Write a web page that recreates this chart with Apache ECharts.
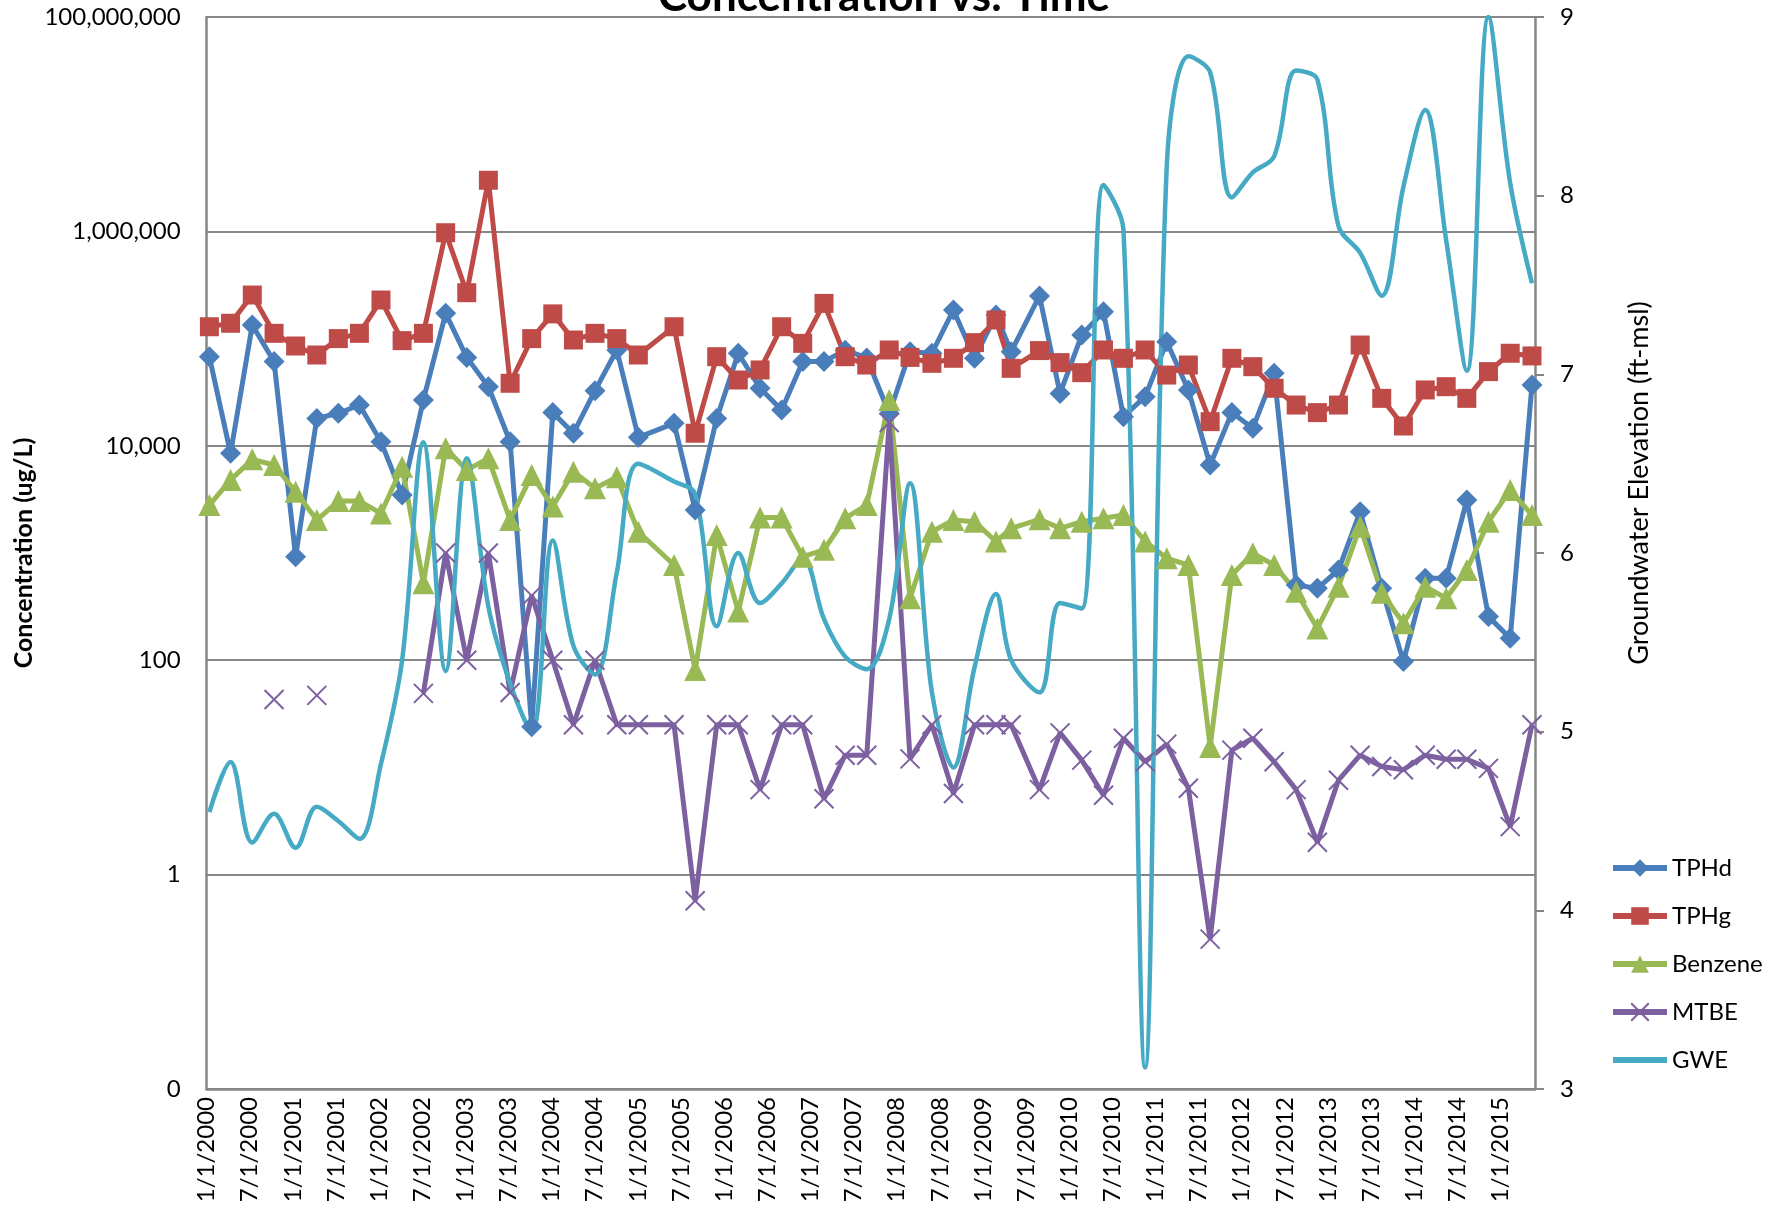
<!DOCTYPE html>
<html>
<head>
<meta charset="utf-8">
<title>Concentration vs. Time</title>
<script src="https://cdn.jsdelivr.net/npm/echarts@6/dist/echarts.min.js"></script>
<style>
  html, body { margin: 0; padding: 0; background: #fff; }
  #chart { width: 1782px; height: 1214px; }
</style>
</head>
<body>
<div id="chart"></div>
<script>
// sampling events
const sampleDates = [
  '2000-01-13', '2000-04-11', '2000-07-12', '2000-10-13', '2001-01-13', '2001-04-11', '2001-07-11', '2001-10-09',
  '2002-01-09', '2002-04-07', '2002-07-06', '2002-10-09', '2003-01-07', '2003-04-07', '2003-07-08', '2003-10-08',
  '2004-01-06', '2004-04-02', '2004-07-02', '2004-10-03', '2005-01-03', '2005-06-02', '2005-08-31', '2005-11-30',
  '2006-02-28', '2006-06-01', '2006-09-01', '2006-11-29', '2007-02-26', '2007-05-27', '2007-08-27', '2007-11-30',
  '2008-02-26', '2008-05-29', '2008-08-29', '2008-11-26', '2009-02-24', '2009-04-29', '2009-08-28', '2009-11-23',
  '2010-02-22', '2010-05-25', '2010-08-18', '2010-11-18', '2011-02-17', '2011-05-19', '2011-08-20', '2011-11-20',
  '2012-02-17', '2012-05-17', '2012-08-19', '2012-11-17', '2013-02-14', '2013-05-16', '2013-08-16', '2013-11-16',
  '2014-02-16', '2014-05-15', '2014-08-11', '2014-11-11', '2015-02-11', '2015-05-13'
];

// concentrations, ug/L
const tphd = [
  67800, 8500, 134000, 61000, 925, 18000, 20100, 24000,
  10900, 3480, 26800, 172000, 66800, 35600, 10900, 24,
  20400, 13100, 32700, 78300, 12000, 16200, 2520, 18000,
  73000, 34400, 21600, 61000, 61000, 78000, 66000, 20000,
  75500, 73000, 185000, 65500, 166000, 75500, 250000, 30800,
  108000, 178000, 18700, 28700, 93500, 33100, 6620, 20400,
  14600, 47400, 502, 468, 694, 2430, 468, 97,
  580, 580, 3120, 255, 160, 36900
];
const tphg = [
  129000, 139000, 255000, 112000, 85300, 70300, 100000, 112000,
  229000, 95700, 112000, 972000, 268000, 3000000, 38300, 100000,
  170000, 97000, 112000, 100000, 70300, 129000, 13100, 67800,
  41100, 51000, 129000, 90300, 213000, 67800, 56700, 78300,
  66800, 58800, 65500, 91700, 149000, 52800, 77300, 59700,
  48100, 78300, 65500, 78300, 45700, 56700, 16800, 65500,
  54700, 34400, 24000, 20400, 24000, 87100, 27700, 15300,
  33200, 35600, 27700, 49200, 73000, 68900
];
const benzene = [
  2800, 4800, 7480, 6620, 3730, 2030, 3050, 3050,
  2340, 6380, 521, 9470, 5940, 7640, 2030, 5350,
  2710, 5740, 4010, 5080, 1580, 773, 81, 1470,
  284, 2140, 2140, 925, 1070, 2110, 2800, 26700,
  378, 1580, 2030, 1960, 1280, 1700, 2060, 1700,
  1960, 2110, 2260, 1280, 892, 773, 15.5, 624,
  993, 773, 436, 198, 485, 1760, 426, 221,
  485, 378, 694, 1960, 3870, 2260
];
const mtbe = [
  null, null, null, 43, null, 47, null, null,
  null, null, 49, 1000, 100, 1000, 50, 400,
  100, 25, 100, 25, 25, 25, 0.57, 25,
  25, 6.2, 25, 25, 5.1, 13, 13, 16500,
  12, 25, 5.7, 25, 25, 25, 6.2, 21,
  11.7, 5.5, 18.7, 11.3, 16.5, 6.4, 0.25, 14.5,
  18.7, 11.3, 6.2, 2.0, 7.6, 13, 10.2, 9.5,
  13, 11.9, 11.9, 9.8, 2.8, 25
];
// groundwater elevation, ft-msl
const gwe = [
  4.55, 4.83, 4.38, 4.54, 4.35, 4.58, 4.50, 4.40,
  4.82, 5.40, 6.62, 5.34, 6.53, 5.70, 5.27, 5.00,
  6.07, 5.48, 5.32, 5.89, 6.50, 6.40, 6.33, 5.59,
  6.00, 5.72, 5.83, 5.97, 5.63, 5.42, 5.35, 5.63,
  6.39, 5.22, 4.80, 5.36, 5.77, 5.40, 5.22, 5.72,
  5.69, 8.06, 7.81, 3.12, 8.16, 8.78, 8.69, 7.99,
  8.13, 8.22, 8.70, 8.65, 7.83, 7.68, 7.44, 8.05,
  8.48, 7.75, 7.02, 9.00, 8.07, 7.51
];

const axisStart = '2000-01-01';
const axisEnd = '2015-05-26';

// months since Jan 2000, fractional
function monthIndex(s) {
  const [y, m, d] = s.split('-').map(Number);
  const dim = new Date(y, m, 0).getDate();
  return (y - 2000) * 12 + (m - 1) + (d - 1) / dim;
}
const xs = sampleDates.map(monthIndex);
const pts = vals => vals.map((v, i) => [xs[i], v == null ? '-' : v]);

const FONT = 'Lato';
const GRAY = '#868686';
const xMark = 'path://M0,0L10,10M10,0L0,10';
const legendLine = { width: 6 };

const chart = echarts.init(document.getElementById('chart'));
chart.setOption({
  animation: false,
  backgroundColor: '#fff',
  textStyle: { fontFamily: FONT, color: '#000' },
  grid: { left: 206.6, right: 247, top: 17, bottom: 125, outerBoundsMode: 'none' },
  graphic: [
    {
      type: 'text', x: 884, y: -3,
      style: { text: 'Concentration vs. Time', font: 'bold 44px Lato', fill: '#000', align: 'center', verticalAlign: 'middle' }
    },
    {
      type: 'text', x: 24, y: 553, rotation: Math.PI / 2,
      style: { text: 'Concentration (ug/L)', font: 'bold 25px Lato', fill: '#000', align: 'center', verticalAlign: 'middle' }
    },
    {
      type: 'text', x: 1639, y: 483, rotation: Math.PI / 2,
      style: { text: 'Groundwater Elevation (ft-msl)', font: '27px Lato', fill: '#000', align: 'center', verticalAlign: 'middle' }
    }
  ],
  legend: {
    orient: 'vertical',
    left: 1605, top: 851,
    itemWidth: 54, itemHeight: 22, itemGap: 24,
    lineStyle: legendLine,
    textStyle: { fontSize: 24, lineHeight: 24, color: '#000', fontFamily: FONT },
    data: [
      { name: 'TPHd', lineStyle: legendLine },
      { name: 'TPHg', lineStyle: legendLine },
      { name: 'Benzene', lineStyle: legendLine },
      { name: 'MTBE', lineStyle: legendLine },
      { name: 'GWE', lineStyle: legendLine, itemStyle: { opacity: 0 } }
    ]
  },
  xAxis: {
    type: 'value',
    min: 0, max: monthIndex(axisEnd), interval: 6,
    axisLine: { lineStyle: { color: GRAY, width: 2.5 } },
    axisTick: { show: false },
    splitLine: { show: false },
    axisLabel: {
      rotate: 90, margin: 8, fontSize: 24, color: '#000', fontFamily: FONT,
      showMaxLabel: false,
      formatter: v => {
        const m = Math.round(v);
        return (m % 12 === 0 ? 1 : 7) + '/1/' + (2000 + Math.floor(m / 12));
      }
    }
  },
  yAxis: [
    {
      type: 'log', logBase: 10,
      min: 0.01, max: 100000000, interval: 2,
      axisLine: { show: true, lineStyle: { color: GRAY, width: 2.5 } },
      axisTick: { show: false },
      splitLine: { show: true, lineStyle: { color: GRAY, width: 2 } },
      axisLabel: {
        margin: 26, fontSize: 24, color: '#000', fontFamily: FONT,
        formatter: v => v < 0.5 ? '0' : Math.round(v).toLocaleString('en-US')
      }
    },
    {
      type: 'value',
      min: 3, max: 9, interval: 1,
      position: 'right',
      axisLine: { show: true, lineStyle: { color: GRAY, width: 2.5 } },
      axisTick: { show: true, inside: false, length: 9, lineStyle: { color: GRAY, width: 2 } },
      splitLine: { show: false },
      axisLabel: { margin: 25, fontSize: 24, color: '#000', fontFamily: FONT }
    }
  ],
  series: [
    {
      name: 'TPHd', type: 'line', yAxisIndex: 0, data: pts(tphd),
      symbol: 'diamond', symbolSize: 21, showAllSymbol: true,
      itemStyle: { color: '#4A7EBB' }, lineStyle: { color: '#4A7EBB', width: 5 }
    },
    {
      name: 'TPHg', type: 'line', yAxisIndex: 0, data: pts(tphg),
      symbol: 'rect', symbolSize: 19, showAllSymbol: true,
      itemStyle: { color: '#BE4B48' }, lineStyle: { color: '#BE4B48', width: 5 }
    },
    {
      name: 'Benzene', type: 'line', yAxisIndex: 0, data: pts(benzene),
      symbol: 'triangle', symbolSize: 22, showAllSymbol: true,
      itemStyle: { color: '#98B954' }, lineStyle: { color: '#98B954', width: 5 }
    },
    {
      name: 'MTBE', type: 'line', yAxisIndex: 0, data: pts(mtbe),
      symbol: xMark, symbolSize: 19, showAllSymbol: true, connectNulls: false,
      itemStyle: { color: '#7D60A0', borderColor: '#7D60A0', borderWidth: 2 },
      lineStyle: { color: '#7D60A0', width: 5 }
    },
    {
      name: 'GWE', type: 'line', yAxisIndex: 1, data: pts(gwe),
      symbol: 'none', smooth: 0.35,
      itemStyle: { color: '#46AAC5' }, lineStyle: { color: '#46AAC5', width: 4.5 }
    }
  ]
});
</script>
</body>
</html>
